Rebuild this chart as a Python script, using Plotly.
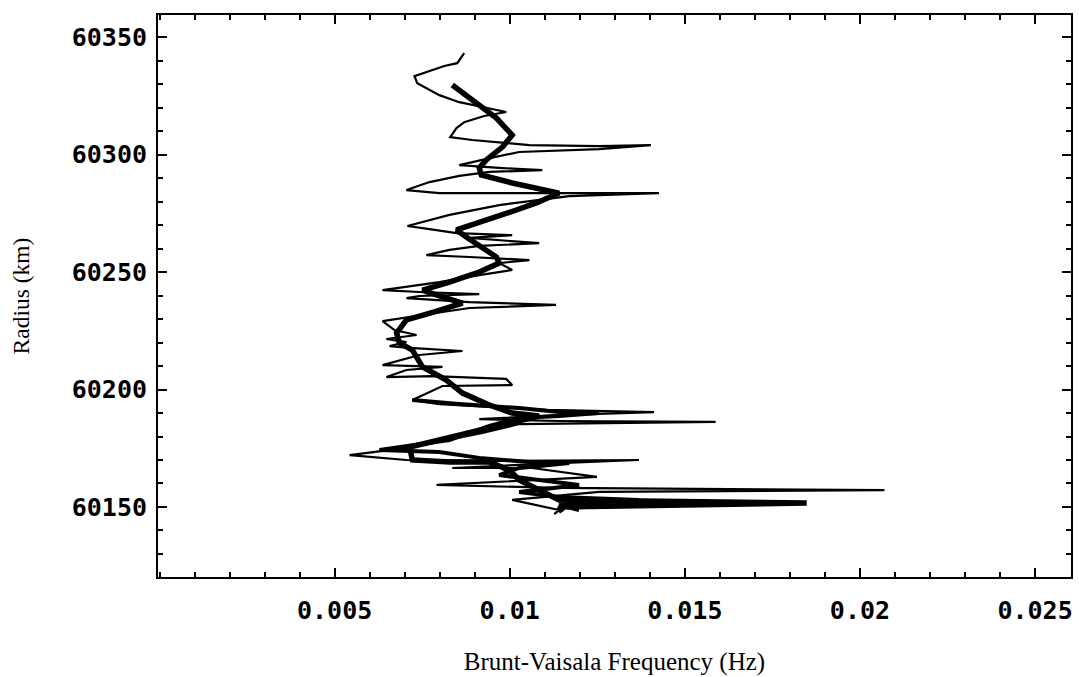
import plotly.graph_objects as go

# Thin profile: Brunt-Vaisala frequency (Hz) vs radius (km)
profile_freq = [
    0.00870, 0.00850, 0.00813, 0.00728, 0.00736, 0.00799, 0.00856, 0.00919, 0.00990, 0.00927,
    0.00870, 0.00848, 0.00830, 0.00893, 0.01056, 0.01255, 0.01403, 0.01255, 0.01027, 0.00956,
    0.00885, 0.00856, 0.00970, 0.01093, 0.00942, 0.00856, 0.00771, 0.00705, 0.00799, 0.01426,
    0.01170, 0.00970, 0.00828, 0.00708, 0.00771, 0.00848, 0.01007, 0.00885, 0.01084, 0.00913,
    0.00828, 0.00762, 0.00885, 0.01056, 0.00970, 0.01007, 0.00913, 0.00799, 0.00637, 0.00742,
    0.00913, 0.00742, 0.00705, 0.00885, 0.01132, 0.00885, 0.00751, 0.00637, 0.00671, 0.00734,
    0.00648, 0.00705, 0.00657, 0.00714, 0.00865, 0.00742, 0.00637, 0.00808, 0.00705, 0.00648,
    0.00779, 0.00990, 0.01007, 0.00808, 0.00722, 0.00799, 0.00942, 0.01104, 0.01412, 0.01141,
    0.00913, 0.01141, 0.01588, 0.01027, 0.00922, 0.00722, 0.00543, 0.00705, 0.00942, 0.01369,
    0.01141, 0.00836, 0.01064, 0.01249, 0.00791, 0.01141, 0.02070, 0.01255, 0.01007, 0.01141,
    0.01127,
]
profile_radius = [
    60343.2, 60338.9, 60337.7, 60333.4, 60330.4, 60325.3, 60322.3, 60320.2, 60318.1, 60316.4,
    60313.8, 60311.3, 60307.4, 60306.2, 60304.0, 60303.6, 60304.0, 60302.3, 60301.1, 60298.9,
    60296.4, 60295.5, 60294.3, 60293.4, 60292.6, 60290.9, 60288.3, 60284.9, 60283.6, 60283.6,
    60282.3, 60278.5, 60274.3, 60269.6, 60268.3, 60266.6, 60265.7, 60264.5, 60262.3, 60261.1,
    60259.4, 60257.2, 60256.4, 60255.1, 60253.8, 60250.9, 60248.7, 60245.7, 60242.3, 60241.5,
    60240.6, 60239.8, 60238.9, 60237.2, 60236.0, 60234.7, 60231.7, 60229.1, 60225.3, 60223.2,
    60221.5, 60220.2, 60218.5, 60217.7, 60216.4, 60214.7, 60210.4, 60209.6, 60208.3, 60205.3,
    60205.7, 60204.5, 60201.9, 60201.5, 60195.5, 60193.8, 60192.6, 60191.3, 60190.4, 60189.1,
    60187.4, 60186.6, 60186.2, 60185.3, 60181.5, 60175.5, 60172.1, 60170.0, 60169.6, 60170.0,
    60168.7, 60166.6, 60166.6, 60162.8, 60159.4, 60158.1, 60157.2, 60156.4, 60153.0, 60148.7,
    60147.0,
]

# Second (overlapping) profile in the lower layers
lower_freq = [
    0.00722, 0.00856, 0.01027, 0.01141, 0.01255, 0.01141, 0.01027, 0.00942, 0.00828, 0.00628,
    0.00799, 0.00913, 0.01056, 0.01170, 0.01027, 0.00970, 0.01084, 0.01198, 0.01027, 0.01141,
    0.01369, 0.01141, 0.01198,
]
lower_radius = [
    60195.5, 60193.8, 60192.1, 60190.4, 60190.0, 60188.7, 60187.9, 60184.5, 60178.5, 60174.3,
    60173.4, 60170.9, 60169.1, 60168.7, 60166.6, 60163.6, 60161.5, 60159.4, 60156.4, 60154.3,
    60153.0, 60150.9, 60148.7,
]

# Thick smoothed profile
smooth_freq = [
    0.00836, 0.00913, 0.00962, 0.01007, 0.00979, 0.00933, 0.00913, 0.00919, 0.01007, 0.01141,
    0.01076, 0.01019, 0.00962, 0.00848, 0.00876, 0.00922, 0.00962, 0.00970, 0.00913, 0.00828,
    0.00751, 0.00799, 0.00865, 0.00785, 0.00705, 0.00677, 0.00685, 0.00722, 0.00751, 0.00819,
    0.00865, 0.00942, 0.01007, 0.01084, 0.00970, 0.00893, 0.00799, 0.00714, 0.00722, 0.00828,
    0.00942, 0.00999, 0.01027, 0.01084, 0.01141, 0.01848, 0.01141, 0.01150,
]
smooth_radius = [
    60329.6, 60321.1, 60315.5, 60308.3, 60303.2, 60297.7, 60294.3, 60291.3, 60287.9, 60283.6,
    60279.4, 60276.4, 60273.4, 60267.9, 60264.9, 60260.6, 60256.4, 60253.8, 60250.0, 60245.7,
    60242.3, 60239.8, 60236.8, 60233.0, 60229.6, 60224.0, 60219.8, 60216.8, 60209.6, 60204.0,
    60198.5, 60193.4, 60190.0, 60188.7, 60184.9, 60181.9, 60178.5, 60175.5, 60170.0, 60169.1,
    60169.1, 60165.7, 60161.5, 60157.2, 60153.0, 60151.7, 60150.0, 60147.9,
]

x_tickvals = [0.005, 0.01, 0.015, 0.02, 0.025]
x_ticktext = ["0.005", "0.01", "0.015", "0.02", "0.025"]
y_tickvals = [60150, 60200, 60250, 60300, 60350]
y_ticktext = ["60150", "60200", "60250", "60300", "60350"]

fig = go.Figure()
fig.add_trace(go.Scatter(x=profile_freq, y=profile_radius, mode="lines",
                         line=dict(color="black", width=2.2), showlegend=False))
fig.add_trace(go.Scatter(x=lower_freq, y=lower_radius, mode="lines",
                         line=dict(color="black", width=4), showlegend=False))
fig.add_trace(go.Scatter(x=smooth_freq, y=smooth_radius, mode="lines",
                         line=dict(color="black", width=5.5), showlegend=False))

tickfont = dict(family="DejaVu Sans Mono", size=25, color="black", weight="bold")
axis_common = dict(
    showline=True, linecolor="black", linewidth=2, mirror="allticks",
    ticks="inside", ticklen=9, tickwidth=2, tickcolor="black",
    showgrid=False, zeroline=False, tickfont=tickfont,
)

fig.update_xaxes(
    range=[-0.0000427, 0.026026], tickmode="array", tickvals=x_tickvals, ticktext=x_ticktext,
    minor=dict(dtick=0.001, tick0=0, ticks="inside", ticklen=5, tickwidth=1.5, tickcolor="black"),
    title=dict(text="Brunt-Vaisala Frequency (Hz)", font=dict(family="Liberation Serif", size=25, color="black"),
               standoff=28),
    ticklabelstandoff=10,
    **axis_common,
)
fig.update_yaxes(
    range=[60120.2, 60359.4], tickmode="array", tickvals=y_tickvals, ticktext=y_ticktext,
    minor=dict(dtick=10, tick0=60150, ticks="inside", ticklen=5, tickwidth=1.5, tickcolor="black"),
    title=dict(text="Radius (km)", font=dict(family="Liberation Serif", size=23.5, color="black"),
               standoff=36),
    ticklabelstandoff=4,
    **axis_common,
)

fig.update_layout(
    width=1079, height=677,
    margin=dict(l=158, r=6, t=15, b=100),
    plot_bgcolor="white", paper_bgcolor="white",
)

fig.write_html("out.html")
